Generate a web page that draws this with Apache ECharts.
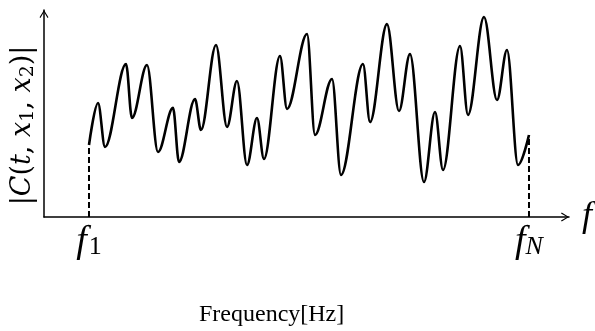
<!DOCTYPE html>
<html>
<head>
<meta charset="utf-8">
<script src="https://cdn.jsdelivr.net/npm/echarts@6/dist/echarts.min.js"></script>
<style>html,body{margin:0;padding:0;background:#fff;}#c{width:595px;height:331px;}</style>
</head>
<body>
<div id="c"></div>
<script>
// Frequency positions (arbitrary units, 0..100 along the axis) of the curve's turning points
const freq = [8.57, 10.29, 11.62, 15.62, 16.76, 19.62, 21.71, 24.57, 25.71, 28.76, 29.90, 32.76,
  34.86, 36.76, 38.67, 40.57, 41.90, 44.95, 46.29, 50.10, 51.62, 54.86, 56.57, 60.76, 62.10,
  65.33, 67.62, 69.71, 72.38, 74.48, 76.00, 79.24, 80.76, 83.81, 86.29, 88.19, 90.29, 92.38];
// |C(t,x1,x2)| magnitude (arbitrary units, 0..100)
const magnitude = [34.8, 55.1, 33.8, 73.9, 47.8, 73.4, 31.4, 52.7, 26.6, 57.0, 42.0, 83.1,
  43.5, 65.7, 25.1, 47.8, 28.0, 77.8, 52.2, 88.4, 39.6, 66.7, 20.3, 73.9, 45.9,
  93.2, 51.2, 78.7, 16.9, 50.7, 22.7, 82.6, 49.3, 96.6, 56.5, 80.7, 25.1, 39.6];
const tickLabels = ['1', 'N'];
const xTitle = 'Frequency[Hz]';

const f1 = freq[0], fN = freq[freq.length - 1];
const curve = freq.map((f, i) => [f, magnitude[i]]);
const chevron = 'path://M5,0 L10,8.2 L9,9 L5,2.2 L1,9 L0,8.2 Z';
const mathFont = 'Liberation Serif';

const chart = echarts.init(document.getElementById('c'), null, {renderer: 'canvas'});
chart.setOption({
  animation: false,
  backgroundColor: '#fff',
  title: {
    text: xTitle, left: 194, top: 298,
    textStyle: {fontFamily: 'Liberation Serif', fontSize: 24, fontWeight: 'normal', color: '#000'}
  },
  grid: {left: 44, right: 26, top: 10, bottom: 114, containLabel: false, outerBoundsMode: 'none'},
  xAxis: [{
    type: 'value', min: 0, max: 100,
    axisLine: {show: true, lineStyle: {color: '#000', width: 1.5}, symbol: ['none', chevron], symbolSize: [9, 8], symbolOffset: [0, -4]},
    axisTick: {show: false},
    splitLine: {show: false},
    axisLabel: {
      show: true, customValues: [f1, fN], margin: 7,
      formatter: v => (Math.abs(v - f1) < 1e-6 ? '{f|f}{s|' + tickLabels[0] + '}' : '{f|f}{n|' + tickLabels[1] + '}'),
      rich: {
        f: {fontFamily: mathFont, fontStyle: 'italic', fontSize: 38, color: '#000', lineHeight: 36},
        s: {fontFamily: mathFont, fontSize: 26, color: '#000', lineHeight: 22, verticalAlign: 'bottom', padding: [0, 0, 0, 2]},
        n: {fontFamily: mathFont, fontStyle: 'italic', fontSize: 26, color: '#000', lineHeight: 22, verticalAlign: 'bottom'}
      }
    },
    name: 'f', nameLocation: 'end', nameGap: 13,
    nameTextStyle: {fontFamily: mathFont, fontStyle: 'italic', fontSize: 36, color: '#000', verticalAlign: 'middle'}
  }],
  yAxis: [{
    type: 'value', min: 0, max: 100,
    axisLine: {show: true, lineStyle: {color: '#000', width: 1.5}, symbol: ['none', chevron], symbolSize: [9, 8], symbolOffset: [0, -4]},
    axisTick: {show: false}, axisLabel: {show: false}, splitLine: {show: false},
    name: '{n||}{i|C}{n|(}{i|t}{n|, }{i|x}{s|1}{n|, }{i|x}{s|2}{n|)|}',
    nameLocation: 'middle', nameRotate: 90, nameGap: 6,
    nameTextStyle: {
      padding: [0, 24, 0, 0],
      rich: {
        n: {fontFamily: 'DejaVu Serif', fontSize: 27, color: '#000', lineHeight: 30},
        i: {fontFamily: 'DejaVu Serif', fontStyle: 'italic', fontSize: 27, color: '#000', lineHeight: 30},
        s: {fontFamily: 'DejaVu Serif', fontSize: 19, color: '#000', lineHeight: 20, verticalAlign: 'bottom'}
      }
    }
  }],
  series: [
    {
      type: 'line', data: curve, smooth: 0.35, smoothMonotone: 'x', showSymbol: false,
      lineStyle: {color: '#000', width: 2.6}, z: 3
    },
    {
      type: 'line', data: [[f1, 0], [f1, magnitude[0]]], showSymbol: false,
      lineStyle: {color: '#000', width: 2, type: [6, 3]}
    },
    {
      type: 'line', data: [[fN, 0], [fN, magnitude[magnitude.length - 1]]], showSymbol: false,
      lineStyle: {color: '#000', width: 2, type: [6, 3]}
    }
  ]
});
</script>
</body>
</html>
